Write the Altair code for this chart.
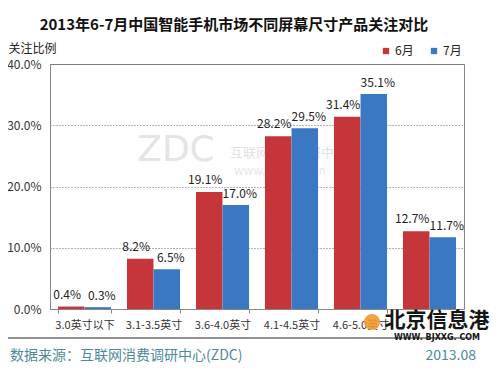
import altair as alt
import pandas as pd

categories = ["3.0英寸以下", "3.1-3.5英寸", "3.6-4.0英寸", "4.1-4.5英寸", "4.6-5.0英寸", "5.0英寸以上"]
months = ["6月", "7月"]
june = [0.4, 8.2, 19.1, 28.2, 31.4, 12.7]
july = [0.3, 6.5, 17.0, 29.5, 35.1, 11.7]
colors = ["#C4363A", "#3A78C4"]

rows = []
for c, a, b in zip(categories, june, july):
    rows.append({"cat": c, "month": months[0], "value": a, "label": f"{a:.1f}%"})
    rows.append({"cat": c, "month": months[1], "value": b, "label": f"{b:.1f}%"})
df = pd.DataFrame(rows)

FONT = "Noto Sans CJK SC"
W, H = 414, 245

x = alt.X("cat:N", sort=categories,
          scale=alt.Scale(paddingInner=0.23, paddingOuter=0.115),
          axis=alt.Axis(title=None, labelAngle=0, tickBand="extent", labelFontSize=11,
                        labelColor="#333333", labelPadding=6, tickColor="#888888",
                        domainColor="#888888", tickSize=4, labelFont=FONT,
                        labelExpr="datum.label == '5.0英寸以上' ? '' : datum.label"))
xo = alt.XOffset("month:N", sort=months, scale=alt.Scale(paddingInner=0, paddingOuter=0))
y = alt.Y("value:Q", scale=alt.Scale(domain=[0, 40], nice=False),
          axis=alt.Axis(values=[0, 10, 20, 30, 40], labelExpr="format(datum.value, '.1f') + '%'",
                        grid=True, gridDash=[1, 2], gridColor="#666666", ticks=False,
                        domainColor="#888888", labelFontSize=12, labelColor="#333333",
                        labelPadding=9, labelFont=FONT,
                        title="关注比例", titleAngle=0, titleX=-42, titleY=-16,
                        titleAlign="left", titleBaseline="middle", titleFontWeight="normal",
                        titleFontSize=12, titleColor="#222222", titleFont=FONT))
color = alt.Color("month:N", sort=months, scale=alt.Scale(domain=months, range=colors),
                  legend=alt.Legend(orient="none", legendX=330, legendY=-19, direction="horizontal",
                                    title=None, symbolType="square", symbolSize=40,
                                    symbolStrokeWidth=0, labelFontSize=12, labelFont=FONT,
                                    labelColor="#222222", columnPadding=14, labelOffset=3))

base = alt.Chart(df)

watermark1 = alt.Chart(pd.DataFrame({"t": ["ZDC"]})).mark_text(
    fontSize=36, color="#E4E4E4", font="DejaVu Sans",
    align="center", baseline="middle").encode(
    x=alt.value(126), y=alt.value(86), text="t:N")
watermark2 = alt.Chart(pd.DataFrame({"t": ["互联网消费调研中心"]})).mark_text(
    fontSize=13, color="#E2E2E2", font=FONT, align="left", baseline="middle").encode(
    x=alt.value(180), y=alt.value(89), text="t:N")
watermark3 = alt.Chart(pd.DataFrame({"t": ["www.zol.com.cn"]})).mark_text(
    fontSize=12, color="#E6E6E6", font=FONT, align="left", baseline="middle").encode(
    x=alt.value(184), y=alt.value(107), text="t:N")

bars = base.mark_bar(size=26.5).encode(x=x, xOffset=xo, y=y, color=color)

lab6 = base.transform_filter(alt.datum.month == months[0]).mark_text(
    baseline="bottom", dy=-5, dx=-4, fontSize=12, color="#222222", font=FONT).encode(
    x=x, xOffset=xo, y=y, text="label:N")
lab7 = base.transform_filter(alt.datum.month == months[1]).mark_text(
    baseline="bottom", dy=-4, dx=4, fontSize=12, color="#222222", font=FONT).encode(
    x=x, xOffset=xo, y=y, text="label:N")

title = alt.Chart(pd.DataFrame({"t": ["2013年6-7月中国智能手机市场不同屏幕尺寸产品关注对比"]})).mark_text(
    fontSize=15, fontWeight="bold", color="#111111", font=FONT, align="center", baseline="middle").encode(
    x=alt.value(184), y=alt.value(-39), text="t:N")

sep = alt.Chart(pd.DataFrame({"a": [0]})).mark_rule(color="#222222", strokeWidth=1).encode(
    x=alt.value(-42), x2=alt.value(420), y=alt.value(274))

foot1 = alt.Chart(pd.DataFrame({"t": ["数据来源：互联网消费调研中心(ZDC)"]})).mark_text(
    fontSize=14, color="#4E8A97", font=FONT, align="left", baseline="middle").encode(
    x=alt.value(-40), y=alt.value(292), text="t:N")
foot2 = alt.Chart(pd.DataFrame({"t": ["2013.08"]})).mark_text(
    fontSize=14, color="#4E8A97", font=FONT, align="right", baseline="middle").encode(
    x=alt.value(426), y=alt.value(292), text="t:N")

logo_dot = alt.Chart(pd.DataFrame({"a": [0]})).mark_point(
    shape="circle", filled=True, color="#F39A2E", opacity=0.9, size=260).encode(
    x=alt.value(322), y=alt.value(258))
logo1 = alt.Chart(pd.DataFrame({"t": ["北京信息港"]})).mark_text(
    fontSize=21, fontWeight="bold", color="#151515", font=FONT, align="center", baseline="middle").encode(
    x=alt.value(387), y=alt.value(257), text="t:N")
logo2 = alt.Chart(pd.DataFrame({"t": ["WWW. BJXXG. COM"]})).mark_text(
    fontSize=8, fontWeight="bold", color="#151515", font="DejaVu Sans", align="center", baseline="middle").encode(
    x=alt.value(387), y=alt.value(274), text="t:N")

chart = alt.layer(
    watermark1, watermark2, watermark3, bars, lab6, lab7, title, sep, foot1, foot2,
    logo_dot, logo1, logo2
).properties(
    width=W, height=H,
    autosize=alt.AutoSizeParams(type="none"),
    padding={"left": 42, "top": 56, "right": 28, "bottom": 58},
    background="white",
).configure_view(stroke="#888888", strokeWidth=1).configure_axis(labelFont=FONT)

chart.save("out.html", embed_options={"renderer": "svg", "actions": False})
